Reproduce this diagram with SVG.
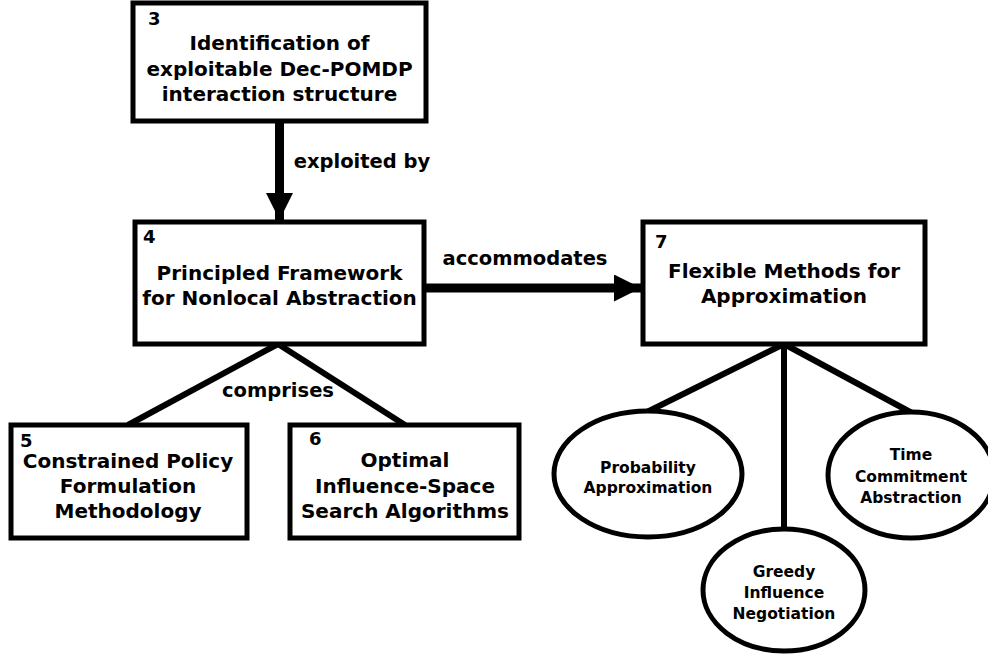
<svg xmlns="http://www.w3.org/2000/svg" width="988" height="655" viewBox="0 0 988 655">
  <style>
    text { font-family: "DejaVu Sans", Verdana, sans-serif; font-weight: bold; fill: #000; }
    .box { fill: #fff; stroke: #000; stroke-width: 5; }
    .oval { fill: #fff; stroke: #000; stroke-width: 5; }
    .title { font-size: 20px; text-anchor: middle; }
    .num { font-size: 18px; }
    .lbl { font-size: 19.5px; text-anchor: middle; }
    .otext { font-size: 15.5px; text-anchor: middle; }
    .link { stroke: #000; stroke-width: 6; fill: none; }
    .arrow { stroke: #000; stroke-width: 9; fill: none; }
  </style>
  <defs>
    <marker id="head" markerUnits="userSpaceOnUse" markerWidth="28" markerHeight="28" refX="27" refY="13.5" orient="auto">
      <path d="M0,0 L27,13.5 L0,27 Z" fill="#000"/>
    </marker>
  </defs>

  <g id="connectors">
    <line class="arrow" x1="279.5" y1="121" x2="279.5" y2="220" marker-end="url(#head)"/>
    <line class="arrow" x1="424" y1="288" x2="641" y2="288" marker-end="url(#head)"/>
    <line class="link" x1="278" y1="344" x2="128" y2="425"/>
    <line class="link" x1="278" y1="344" x2="405" y2="425"/>
    <line class="link" x1="784" y1="344" x2="647" y2="412"/>
    <line class="link" x1="784" y1="344" x2="784" y2="530"/>
    <line class="link" x1="784" y1="344" x2="912" y2="413"/>
    <text class="lbl" x="362" y="168">exploited by</text>
    <text class="lbl" x="525" y="265">accommodates</text>
    <text class="lbl" x="278" y="397">comprises</text>
  </g>

  <g id="node3">
    <rect class="box" x="133" y="3" width="293" height="118"/>
    <text class="num" x="148" y="25">3</text>
    <text class="title" x="279.5" y="50">Identification of</text>
    <text class="title" x="279.5" y="76">exploitable Dec-POMDP</text>
    <text class="title" x="279.5" y="101">interaction structure</text>
  </g>

  <g id="node4">
    <rect class="box" x="135" y="222" width="289" height="122"/>
    <text class="num" x="143" y="243">4</text>
    <text class="title" x="279.5" y="280">Principled Framework</text>
    <text class="title" x="279.5" y="305">for Nonlocal Abstraction</text>
  </g>

  <g id="node7">
    <rect class="box" x="643" y="222" width="282" height="122"/>
    <text class="num" x="655" y="248">7</text>
    <text class="title" x="784" y="278">Flexible Methods for</text>
    <text class="title" x="784" y="303">Approximation</text>
  </g>

  <g id="node5">
    <rect class="box" x="11" y="425" width="236" height="113"/>
    <text class="num" x="20" y="447">5</text>
    <text class="title" x="128" y="468">Constrained Policy</text>
    <text class="title" x="128" y="493">Formulation</text>
    <text class="title" x="128" y="518">Methodology</text>
  </g>

  <g id="node6">
    <rect class="box" x="290" y="425" width="229" height="113"/>
    <text class="num" x="309" y="445">6</text>
    <text class="title" x="405" y="467">Optimal</text>
    <text class="title" x="405" y="493">Influence-Space</text>
    <text class="title" x="405" y="518">Search Algorithms</text>
  </g>

  <g id="probability">
    <ellipse class="oval" cx="648" cy="474" rx="94" ry="63"/>
    <text class="otext" x="648" y="473">Probability</text>
    <text class="otext" x="648" y="493">Approximation</text>
  </g>

  <g id="greedy">
    <ellipse class="oval" cx="784" cy="590" rx="81" ry="61"/>
    <text class="otext" x="784" y="577">Greedy</text>
    <text class="otext" x="784" y="598">Influence</text>
    <text class="otext" x="784" y="619">Negotiation</text>
  </g>

  <g id="time">
    <ellipse class="oval" cx="911" cy="475" rx="83" ry="63"/>
    <text class="otext" x="911" y="460">Time</text>
    <text class="otext" x="911" y="482">Commitment</text>
    <text class="otext" x="911" y="503">Abstraction</text>
  </g>
</svg>
